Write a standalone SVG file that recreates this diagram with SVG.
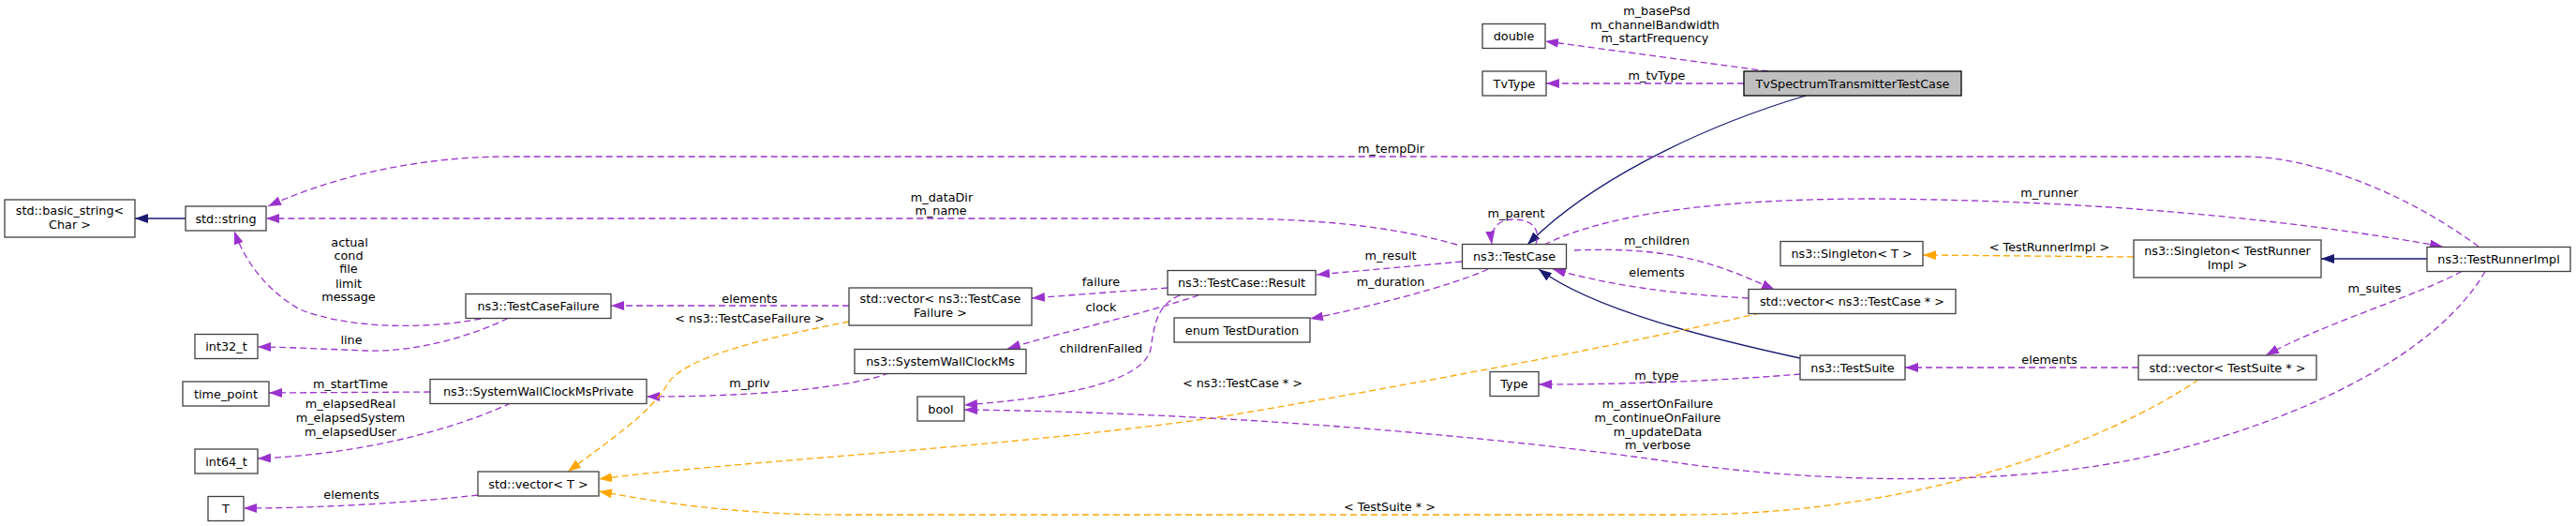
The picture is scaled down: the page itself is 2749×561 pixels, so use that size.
<svg xmlns="http://www.w3.org/2000/svg" width="2749" height="561" viewBox="0 0 2749 561">
<style>
text{font-family:"DejaVu Sans","Liberation Sans",sans-serif;font-size:12.8px;fill:#000;text-anchor:middle}
.n rect{fill:#fff;stroke:#404040;stroke-width:1.3}
.m rect{fill:#bfbfbf;stroke:#000;stroke-width:1.3}
.e path{fill:none;stroke-width:1.3}
.p{stroke:#9a32cd;stroke-dasharray:7,4}
.o{stroke:#ffa500;stroke-dasharray:7,4}
.b{stroke:#191970}
</style>
<defs>
<marker id="ap" markerUnits="userSpaceOnUse" markerWidth="15" markerHeight="11" refX="14" refY="5" orient="auto"><path d="M0,0L14,5L0,10z" fill="#9a32cd"/></marker>
<marker id="ao" markerUnits="userSpaceOnUse" markerWidth="15" markerHeight="11" refX="14" refY="5" orient="auto"><path d="M0,0L14,5L0,10z" fill="#ffa500"/></marker>
<marker id="ab" markerUnits="userSpaceOnUse" markerWidth="15" markerHeight="11" refX="14" refY="5" orient="auto"><path d="M0,0L14,5L0,10z" fill="#191970"/></marker>
</defs>
<g id="edges" class="e">
<path class="p" marker-end="url(#ap)" d="M1887,76 L1649,44"/>
<path class="p" marker-end="url(#ap)" d="M1861,89 L1650,89"/>
<path class="b" marker-end="url(#ab)" d="M1927,102 C1800,140 1690,200 1630,261"/>
<path class="b" marker-end="url(#ab)" d="M1921,382 C1820,360 1700,330 1642,287"/>
<path class="b" marker-end="url(#ab)" d="M2590,276 L2477,276"/>
<path class="b" marker-end="url(#ab)" d="M198,233 L144,233"/>
<path class="p" marker-end="url(#ap)" d="M2645,263 C2560,200 2460,167 2396,167 L545,167 C420,167 330,200 286,220"/>
<path class="p" marker-end="url(#ap)" d="M1555,261 C1480,240 1400,233 1300,233 L284,233"/>
<path class="p" marker-end="url(#ap)" d="M1648,261 C1720,225 1850,212 2000,212 C2250,214 2450,235 2607,263"/>
<path class="p" marker-end="url(#ap)" d="M1560,279 L1405,293"/>
<path class="p" marker-end="url(#ap)" d="M1588,287 C1550,305 1450,330 1398,340"/>
<path class="p" marker-end="url(#ap)" d="M1680,267 C1790,262 1840,285 1894,309"/>
<path class="p" marker-end="url(#ap)" d="M1866,318 C1790,314 1720,305 1657,287"/>
<path class="p" marker-end="url(#ap)" d="M1639,260.5 C1645,240 1630,234 1615,234 C1598,234 1590,245 1592,260.5"/>
<path class="p" marker-end="url(#ap)" d="M1921,399 C1850,405 1750,410 1642,410"/>
<path class="p" marker-end="url(#ap)" d="M1246,307 L1101,318"/>
<path class="p" marker-end="url(#ap)" d="M1279,315 C1220,335 1130,355 1075,372"/>
<path class="p" marker-end="url(#ap)" d="M1259,315 C1235,325 1232,345 1228,372 C1220,410 1120,425 1029,432"/>
<path class="p" marker-end="url(#ap)" d="M949,398 C900,415 800,423 690,423"/>
<path class="p" marker-end="url(#ap)" d="M906,326 L652,326"/>
<path class="o" marker-end="url(#ao)" d="M906,343 C820,360 730,380 712,410 C695,440 650,470 606,503"/>
<path class="p" marker-end="url(#ap)" d="M459,418 L287,419"/>
<path class="p" marker-end="url(#ap)" d="M545,430 C480,460 380,485 275,489"/>
<path class="p" marker-end="url(#ap)" d="M542,339.5 C500,360 440,376 390,374 C340,372 300,370 275,370"/>
<path class="p" marker-end="url(#ap)" d="M513,340 C450,352 370,350 320,330 C285,310 262,280 250,246.5"/>
<path class="p" marker-end="url(#ap)" d="M510,528 C450,535 350,542 260,542"/>
<path class="o" marker-end="url(#ao)" d="M1878,334 C1700,375 1450,420 1300,445 C1050,480 800,490 639,511"/>
<path class="o" marker-end="url(#ao)" d="M2346,405 C2250,470 2050,549 1795,549 L900,549 C780,549 700,535 639,524"/>
<path class="p" marker-end="url(#ap)" d="M2652,289.5 C2600,380 2450,450 2300,485 C2150,520 1950,515 1800,495 C1600,465 1300,440 1029,437"/>
<path class="o" marker-end="url(#ao)" d="M2277,274 L2052,272"/>
<path class="p" marker-end="url(#ap)" d="M2282,392 L2033,392"/>
<path class="p" marker-end="url(#ap)" d="M2627,289.5 C2580,315 2480,345 2418,379"/>
</g>
<g id="edge-labels">
<text x="1768" y="16.2">m_basePsd</text>
<text x="1766" y="30.5">m_channelBandwidth</text>
<text x="1766" y="45.2">m_startFrequency</text>
<text x="1768" y="85.2">m_tvType</text>
<text x="1484.5" y="162.8">m_tempDir</text>
<text x="1005" y="215.2">m_dataDir</text>
<text x="1004" y="229.2">m_name</text>
<text x="2187" y="209.5">m_runner</text>
<text x="1618" y="232.2">m_parent</text>
<text x="1768" y="261.2">m_children</text>
<text x="1768" y="294.5">elements</text>
<text x="1484" y="277">m_result</text>
<text x="1484" y="305.2">m_duration</text>
<text x="2187" y="267.8">&lt; TestRunnerImpl &gt;</text>
<text x="1175" y="304.5">failure</text>
<text x="1175" y="331.8">clock</text>
<text x="1175" y="376.2">childrenFailed</text>
<text x="800" y="322.8">elements</text>
<text x="800" y="343.8">&lt; ns3::TestCaseFailure &gt;</text>
<text x="800" y="412.8">m_priv</text>
<text x="1326" y="412.8">&lt; ns3::TestCase * &gt;</text>
<text x="1768" y="404.5">m_type</text>
<text x="2187" y="387.8">elements</text>
<text x="2534" y="312.2">m_suites</text>
<text x="1769" y="435.2">m_assertOnFailure</text>
<text x="1769" y="449.5">m_continueOnFailure</text>
<text x="1769" y="464.5">m_updateData</text>
<text x="1769" y="479.2">m_verbose</text>
<text x="1483" y="544.5">&lt; TestSuite * &gt;</text>
<text x="373" y="262.8">actual</text>
<text x="372" y="277.2">cond</text>
<text x="372" y="291.2">file</text>
<text x="372" y="306.5">limit</text>
<text x="372" y="321.2">message</text>
<text x="375" y="366.8">line</text>
<text x="374" y="413.5">m_startTime</text>
<text x="374" y="435.2">m_elapsedReal</text>
<text x="374" y="449.5">m_elapsedSystem</text>
<text x="374" y="464.5">m_elapsedUser</text>
<text x="375" y="532.2">elements</text>
</g>
<g id="TvSpectrumTransmitterTestCase" class="m"><rect x="1861" y="76" width="232" height="26"/><text x="1977" y="93.5">TvSpectrumTransmitterTestCase</text></g>
<g id="double" class="n"><rect x="1582" y="25.5" width="67" height="26"/><text x="1615.5" y="43">double</text></g>
<g id="TvType" class="n"><rect x="1582" y="76" width="68" height="26"/><text x="1616" y="93.5">TvType</text></g>
<g id="basic_string" class="n"><rect x="5" y="213" width="139" height="40"/><text x="74.5" y="229">std::basic_string&lt;</text><text x="74.5" y="244">Char &gt;</text></g>
<g id="string" class="n"><rect x="198" y="220" width="86" height="26"/><text x="241" y="237.5">std::string</text></g>
<g id="TestCaseFailure" class="n"><rect x="497" y="313.5" width="155" height="26"/><text x="574.5" y="331">ns3::TestCaseFailure</text></g>
<g id="int32_t" class="n"><rect x="208" y="356.5" width="67" height="26"/><text x="241.5" y="374">int32_t</text></g>
<g id="time_point" class="n"><rect x="195" y="407" width="92" height="26"/><text x="241" y="424.5">time_point</text></g>
<g id="SystemWallClockMsPrivate" class="n"><rect x="459" y="404.5" width="231" height="26"/><text x="574.5" y="422">ns3::SystemWallClockMsPrivate</text></g>
<g id="int64_t" class="n"><rect x="208" y="479" width="67" height="26"/><text x="241.5" y="496.5">int64_t</text></g>
<g id="vector_T" class="n"><rect x="510" y="503" width="129" height="26"/><text x="574.5" y="520.5">std::vector&lt; T &gt;</text></g>
<g id="T" class="n"><rect x="222" y="529.5" width="38" height="26"/><text x="241" y="547">T</text></g>
<g id="vector_TestCaseFailure" class="n"><rect x="906" y="307" width="195" height="40"/><text x="1003.5" y="323">std::vector&lt; ns3::TestCase</text><text x="1003.5" y="338">Failure &gt;</text></g>
<g id="SystemWallClockMs" class="n"><rect x="912" y="372.5" width="183" height="26"/><text x="1003.5" y="390">ns3::SystemWallClockMs</text></g>
<g id="bool" class="n"><rect x="979" y="423" width="50" height="26"/><text x="1004" y="440.5">bool</text></g>
<g id="TestCase_Result" class="n"><rect x="1246" y="288.5" width="158" height="26"/><text x="1325" y="306">ns3::TestCase::Result</text></g>
<g id="TestDuration" class="n"><rect x="1253" y="339" width="145" height="26"/><text x="1325.5" y="356.5">enum TestDuration</text></g>
<g id="TestCase" class="n"><rect x="1560.5" y="260.5" width="111" height="26"/><text x="1616" y="278">ns3::TestCase</text></g>
<g id="Type" class="n"><rect x="1590" y="396.5" width="52" height="26"/><text x="1616" y="414">Type</text></g>
<g id="vector_TestCase" class="n"><rect x="1866" y="308.5" width="221" height="26"/><text x="1976.5" y="326">std::vector&lt; ns3::TestCase * &gt;</text></g>
<g id="Singleton_T" class="n"><rect x="1900" y="257.5" width="152" height="26"/><text x="1976" y="275">ns3::Singleton&lt; T &gt;</text></g>
<g id="TestSuite" class="n"><rect x="1921" y="379" width="112" height="26"/><text x="1977" y="396.5">ns3::TestSuite</text></g>
<g id="Singleton_TestRunnerImpl" class="n"><rect x="2277" y="256" width="200" height="40"/><text x="2377" y="272">ns3::Singleton&lt; TestRunner</text><text x="2377" y="287">Impl &gt;</text></g>
<g id="vector_TestSuite" class="n"><rect x="2282" y="379" width="190" height="26"/><text x="2377" y="396.5">std::vector&lt; TestSuite * &gt;</text></g>
<g id="TestRunnerImpl" class="n"><rect x="2590" y="263.5" width="153" height="26"/><text x="2666.5" y="281">ns3::TestRunnerImpl</text></g>
</svg>
